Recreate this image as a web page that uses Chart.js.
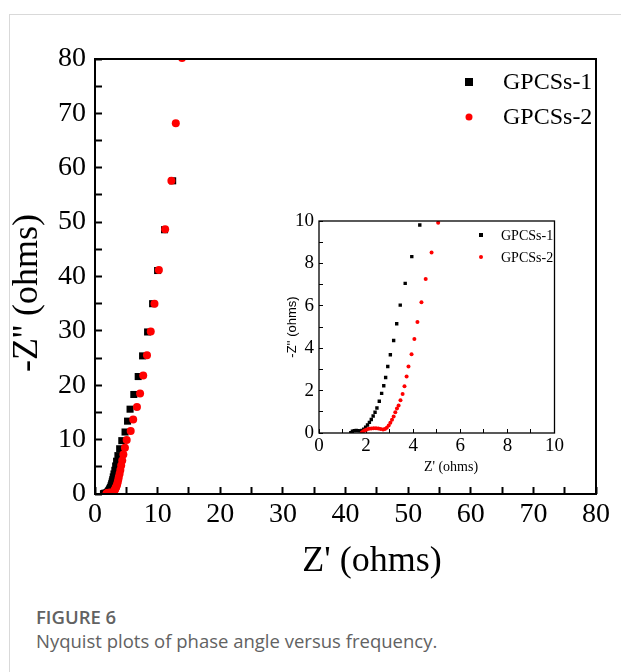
<!doctype html>
<html lang="en">

<head>
  <meta charset="utf-8">
  <script src="https://cdn.jsdelivr.net/npm/chart.js@4.4.0/dist/chart.umd.min.js"></script>
  <title>Nyquist plots</title>
  <style>
    body { margin: 0; background: #fff; }
    #page { position: relative; width: 621px; height: 672px; overflow: hidden; }
    #frameTop { position: absolute; left: 9px; top: 14px; right: 0; border-top: 1px solid #d9d9d9; }
    #frameLeft { position: absolute; left: 9px; top: 14px; bottom: 0; border-left: 1px solid #d9d9d9; }
    #mainBox { position: absolute; left: 0; top: 0; width: 621px; height: 600px; }
    #insetBox { position: absolute; left: 270px; top: 200px; width: 300px; height: 280px; }
    #caption { position: absolute; left: 36px; top: 605px; font-family: 'Open Sans', 'Noto Sans', sans-serif; color: #626262; }
    #caption .num { font-size: 18.5px; font-weight: 600; line-height: 24px; }
    #caption .txt { font-size: 18.5px; line-height: 24px; }
  </style>
</head>

<body>
  <div id="page">
    <div id="frameTop"></div>
    <div id="frameLeft"></div>
    <div id="mainBox"><canvas id="mainChart" width="621" height="600"></canvas></div>
    <div id="insetBox"><canvas id="insetChart" width="300" height="280"></canvas></div>
    <div id="caption">
      <div class="num">FIGURE 6</div>
      <div class="txt">Nyquist plots of phase angle versus frequency.</div>
    </div>
  </div>

  <script>
    // series names
    const seriesNames = ['GPCSs-1', 'GPCSs-2'];

    // GPCSs-1: Z' and -Z'' (ohms)
    const zRe1 = [1.35, 1.42, 1.5, 1.58, 1.66, 1.74, 1.82, 1.9, 1.98, 2.06,
      2.14, 2.22, 2.3, 2.38, 2.46, 2.56, 2.66, 2.75, 2.83, 2.92,
      3.03, 3.17, 3.30, 3.45, 3.66, 3.94, 4.28,
      4.8, 5.2, 5.6, 6.2, 6.9, 7.6, 8.4, 9.2, 10.0, 11.1, 12.4];
    const zIm1 = [0.02, 0.08, 0.11, 0.12, 0.11, 0.10, 0.12, 0.18, 0.27, 0.38,
      0.50, 0.64, 0.80, 0.98, 1.18, 1.50, 1.87, 2.23, 2.62, 3.14,
      3.69, 4.36, 5.15, 6.03, 7.06, 8.32, 9.81,
      11.4, 13.4, 15.6, 18.3, 21.6, 25.4, 29.8, 35.0, 41.1, 48.6, 57.6];

    // GPCSs-2: Z' and -Z'' (ohms)
    const zRe2 = [1.82, 1.88, 1.95, 2.03, 2.12, 2.22, 2.32, 2.42, 2.52, 2.62,
      2.72, 2.80, 2.88, 2.96, 3.03, 3.10, 3.17, 3.24, 3.31, 3.38,
      3.46, 3.55, 3.63, 3.72, 3.80, 3.93, 4.05, 4.18, 4.35, 4.53,
      4.78, 5.06,
      5.7, 6.1, 6.7, 7.2, 7.7, 8.3, 8.9, 9.5, 10.2, 11.2, 12.2, 12.9, 13.9];
    const zIm2 = [0.02, 0.08, 0.13, 0.17, 0.20, 0.21, 0.22, 0.22, 0.21, 0.19,
      0.17, 0.19, 0.25, 0.35, 0.48, 0.62, 0.78, 0.98, 1.15, 1.30,
      1.54, 1.84, 2.20, 2.67, 3.14, 3.72, 4.43, 5.23, 6.17, 7.27,
      8.51, 9.92,
      11.6, 13.7, 16.0, 18.5, 21.8, 25.5, 29.9, 35.0, 41.2, 48.7, 57.6, 68.2, 80.2];

    // axis ranges / tick labels
    const mainRange = [0, 80];
    const mainLabelStep = 10;
    const insetRange = [0, 10];
    const insetLabelStep = 2;

    const serif = "'Liberation Serif', 'Times New Roman', serif";

    function toPoints(xs, ys) {
      return xs.map((x, i) => ({ x: x, y: ys[i] }));
    }

    // box around the plot area
    const plotBox = {
      id: 'plotBox',
      afterDatasetsDraw(chart, args, opts) {
        const a = chart.chartArea;
        const ctx = chart.ctx;
        ctx.save();
        ctx.strokeStyle = '#000';
        ctx.lineWidth = opts.width;
        ctx.strokeRect(a.left, a.top, a.right - a.left, a.bottom - a.top);
        ctx.restore();
      }
    };

    // axis titles at fixed spots
    const axisTitles = {
      id: 'axisTitles',
      afterDraw(chart, args, opts) {
        const ctx = chart.ctx;
        ctx.save();
        ctx.fillStyle = '#000';
        ctx.textAlign = 'center';
        ctx.textBaseline = 'middle';
        ctx.font = opts.xFont;
        ctx.fillText(opts.xText, opts.xAt[0], opts.xAt[1]);
        ctx.translate(opts.yAt[0], opts.yAt[1]);
        ctx.rotate(-Math.PI / 2);
        ctx.font = opts.yFont;
        ctx.fillText(opts.yText, 0, 0);
        ctx.restore();
      }
    };

    // legend inside the plot
    const innerLegend = {
      id: 'innerLegend',
      afterDraw(chart, args, opts) {
        const ctx = chart.ctx;
        ctx.save();
        ctx.font = opts.font;
        ctx.textBaseline = 'middle';
        ctx.textAlign = 'left';
        chart.data.datasets.forEach((ds, i) => {
          const y = opts.y + i * opts.gap;
          ctx.fillStyle = ds.backgroundColor;
          const r = opts.size[i];
          if (ds.pointStyle === 'rect') {
            ctx.fillRect(opts.x - r, y - r, 2 * r, 2 * r);
          } else {
            ctx.beginPath();
            ctx.arc(opts.x, y, r, 0, Math.PI * 2);
            ctx.fill();
          }
          ctx.fillStyle = '#000';
          ctx.fillText(ds.label, opts.textX, y + 1);
        });
        ctx.restore();
      }
    };

    function axis(range, step, labelStep, fontSize, pad, tick, tickW, fit) {
      return {
        type: 'linear',
        min: range[0],
        max: range[1],
        ticks: {
          stepSize: step,
          autoSkip: false,
          maxRotation: 0,
          color: '#000',
          padding: pad,
          font: { family: serif, size: fontSize },
          callback: v => (v % labelStep === 0 ? v : '')
        },
        grid: { drawOnChartArea: false, tickLength: tick, tickWidth: tickW, tickColor: '#000' },
        border: { display: false },
        afterFit: fit
      };
    }

    function datasets(r1, r2, o) {
      return [{
        label: seriesNames[0],
        data: toPoints(zRe1, zIm1),
        pointStyle: 'rect',
        pointRadius: r1,
        backgroundColor: '#000',
        borderColor: '#000',
        pointBorderWidth: 0,
        clip: 0,
        order: 1
      }, {
        label: seriesNames[1],
        data: toPoints(zRe2, zIm2),
        pointStyle: 'circle',
        pointRadius: r2,
        backgroundColor: '#ff0000',
        borderColor: '#ff0000',
        pointBorderWidth: 0,
        clip: 0,
        order: 0
      }];
    }

    const mainChart = new Chart(document.getElementById('mainChart'), {
      type: 'scatter',
      data: { datasets: datasets(5, 4) },
      options: {
        responsive: false,
        animation: false,
        devicePixelRatio: 1,
        layout: { padding: { left: 0, top: 59, right: 18, bottom: 0 } },
        scales: {
          x: axis(mainRange, 5, mainLabelStep, 28, 11, -7, 2, s => { s.height = 106; }),
          y: axis(mainRange, 5, mainLabelStep, 28, 16, -7, 2, s => { s.width = 95; })
        },
        plugins: {
          legend: { display: false },
          tooltip: { enabled: false },
          plotBox: { width: 2 },
          axisTitles: {
            xText: "Z' (ohms)", xFont: '36px ' + serif, xAt: [372, 562],
            yText: "-Z'' (ohms)", yFont: '36px ' + serif, yAt: [28, 293]
          },
          innerLegend: { x: 469, y: 82, gap: 35, textX: 503, size: [4, 3.5], font: '24px ' + serif }
        }
      },
      plugins: [plotBox, axisTitles, innerLegend]
    });

    const insetChart = new Chart(document.getElementById('insetChart'), {
      type: 'scatter',
      data: { datasets: datasets(2.4, 2) },
      options: {
        responsive: false,
        animation: false,
        devicePixelRatio: 1,
        layout: { padding: { left: 0, top: 21, right: 13, bottom: 0 } },
        scales: {
          x: axis(insetRange, 1, insetLabelStep, 19, 6, -4, 1, s => { s.height = 47; }),
          y: axis(insetRange, 1, insetLabelStep, 19, 9, -4, 1, s => { s.width = 49; })
        },
        plugins: {
          legend: { display: false },
          tooltip: { enabled: false },
          plotBox: { width: 1.3 },
          axisTitles: {
            xText: "Z' (ohms)", xFont: '14px ' + serif, xAt: [181, 267],
            yText: "-Z'' (ohms)", yFont: "13px 'Liberation Sans', Arial, sans-serif", yAt: [22, 127]
          },
          innerLegend: { x: 211, y: 35, gap: 22, textX: 231, size: [2, 2], font: '14px ' + serif }
        }
      },
      plugins: [plotBox, axisTitles, innerLegend]
    });
  </script>
</body>

</html>
